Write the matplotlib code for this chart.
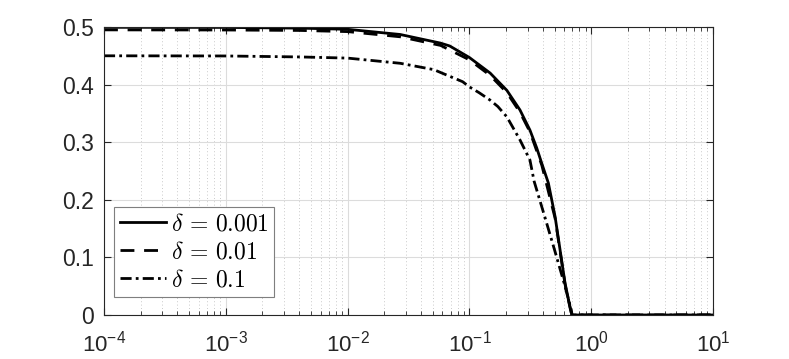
import numpy as np
import matplotlib
matplotlib.use('Agg')
import matplotlib.pyplot as plt
from matplotlib.ticker import LogLocator, MultipleLocator, NullFormatter, FormatStrFormatter

plt.rcParams['font.family'] = ['Liberation Sans', 'DejaVu Sans']

# values
x_001 = [1e-4, 1e-3, 0.0041, 0.01, 0.027, 0.058, 0.069, 0.1, 0.148, 0.203,
         0.26, 0.314, 0.357, 0.393, 0.445, 0.505, 0.555, 0.61, 0.67, 0.70, 10]
y_001 = [0.4995, 0.4993, 0.498, 0.496, 0.487, 0.472, 0.467, 0.447, 0.42, 0.39,
         0.356, 0.321, 0.29, 0.263, 0.229, 0.171, 0.113, 0.055, 0.014, 0.0, 0.0]

x_01 = [1e-4, 1e-3, 0.0041, 0.01, 0.027, 0.058, 0.1, 0.148, 0.203,
        0.26, 0.314, 0.393, 0.505, 0.61, 0.69, 10]
y_01 = [0.495, 0.4948, 0.494, 0.492, 0.483, 0.468, 0.443, 0.416, 0.386,
        0.352, 0.318, 0.26, 0.168, 0.053, 0.0, 0.0]

x_1 = [1e-4, 1e-3, 0.0041, 0.01, 0.027, 0.051, 0.058, 0.088, 0.1, 0.12,
       0.148, 0.171, 0.203, 0.26, 0.314, 0.34, 0.415, 0.5, 0.6, 0.685, 0.69, 10]
y_1 = [0.45, 0.4497, 0.448, 0.446, 0.437, 0.426, 0.421, 0.405, 0.396, 0.386,
       0.373, 0.362, 0.344, 0.304, 0.269, 0.232, 0.171, 0.113, 0.055, 0.009, 0.0, 0.0]

labels = [r'$\delta \,=\, 0.001$', r'$\delta \,=\, 0.01$', r'$\delta \,=\, 0.1$']

fig = plt.figure(figsize=(7.89, 3.59), dpi=100)
ax = fig.add_axes([0.1318, 0.1226, 0.7719, 0.8022])

lw = 2.0
ax.plot(x_001, y_001, color='k', lw=lw, ls='-', label=labels[0])
ax.plot(x_01, y_01, color='k', lw=lw, ls=(0, (5, 3.5)), label=labels[1])
ax.plot(x_1, y_1, color='k', lw=lw, ls=(0, (4, 1.5, 1, 1.5)), label=labels[2])

ax.set_xscale('log')
ax.set_xlim(1e-4, 1e1)
ax.set_ylim(0, 0.5)
ax.yaxis.set_major_locator(MultipleLocator(0.1))
ax.yaxis.set_major_formatter(FormatStrFormatter('%g'))
ax.xaxis.set_major_locator(LogLocator(base=10, numticks=10))
ax.xaxis.set_minor_locator(LogLocator(base=10, subs=np.arange(2, 10), numticks=20))
ax.xaxis.set_minor_formatter(NullFormatter())

ax.grid(True, which='major', color='#dcdcdc', lw=0.8, ls='-')
ax.grid(True, which='minor', axis='x', color='#b8b8b8', lw=0.6, ls=(0, (1, 3)))
ax.set_axisbelow(True)

dark = '#262626'
for s in ax.spines.values():
    s.set_color(dark)
    s.set_linewidth(0.8)
ax.tick_params(which='both', direction='in', top=True, right=True, colors=dark,
               labelcolor=dark)
ax.tick_params(which='major', length=5)
ax.tick_params(which='minor', length=3)
ax.tick_params(axis='y', which='major', labelsize=16.5, pad=7)
ax.tick_params(axis='x', which='major', labelsize=16, pad=11)

leg = ax.legend(loc='lower left', bbox_to_anchor=(0.0164, 0.0625), borderaxespad=0,
                prop={'size': 17, 'math_fontfamily': 'cm'}, fancybox=False,
                edgecolor='#7f7f7f', framealpha=1, handlelength=1.95,
                handletextpad=0.2, labelspacing=0.25, borderpad=0.25)
leg.get_frame().set_linewidth(0.8)

fig.savefig('out.png', dpi=100)
